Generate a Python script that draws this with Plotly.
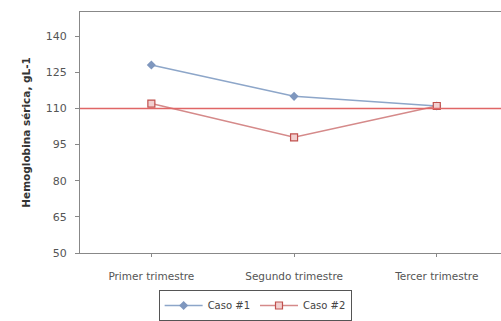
import plotly.graph_objects as go

trimestres = ["Primer trimestre", "Segundo trimestre", "Tercer trimestre"]
caso1 = [128, 115, 111]
caso2 = [112, 98, 111]
referencia = 110
y_ticks = [50, 65, 80, 95, 110, 125, 140]

font_family = "DejaVu Sans, Verdana, sans-serif"

fig = go.Figure()
fig.add_trace(go.Scatter(
    x=trimestres, y=caso1, name="Caso #1", mode="lines+markers",
    line=dict(color="#8DA6C9", width=1.5),
    marker=dict(symbol="diamond", size=7, color="#7F97BE"),
))
fig.add_trace(go.Scatter(
    x=trimestres, y=caso2, name="Caso #2", mode="lines+markers",
    line=dict(color="#D58A8A", width=1.5),
    marker=dict(symbol="square", size=7, color="#F2D0D0",
                line=dict(color="#C0504D", width=1.2)),
))

# Reference line across the whole plot area
fig.add_shape(type="line", xref="paper", x0=0, x1=1, yref="y",
              y0=referencia, y1=referencia,
              line=dict(color="#E06666", width=1.5))

fig.add_annotation(
    text="<b>Hemoglobina sérica, gL-1</b>", textangle=-90,
    xref="paper", yref="paper", x=-0.13, y=0.5,
    xanchor="center", yanchor="middle", showarrow=False,
    font=dict(family=font_family, size=10.5, color="#333333"),
)

fig.update_layout(
    width=501, height=321,
    margin=dict(l=80, r=0, t=12, b=66),
    paper_bgcolor="white", plot_bgcolor="white",
    font=dict(family=font_family, size=10, color="#555555"),
    showlegend=True,
    legend=dict(
        orientation="h", x=0.416, xanchor="center", y=-0.155, yanchor="top",
        bordercolor="#555555", borderwidth=1,
        font=dict(size=10, color="#444444"),
        itemwidth=38, tracegroupgap=0,
    ),
    xaxis=dict(
        type="category", range=[-0.5, 2.45],
        showline=True, linecolor="#888888", linewidth=1, mirror=True,
        ticks="outside", ticklen=3, tickcolor="#888888",
        ticklabelstandoff=10,
        showgrid=False, tickfont=dict(size=10.5, color="#555555"),
    ),
    yaxis=dict(
        range=[50, 150], tickvals=y_ticks,
        showline=True, linecolor="#888888", linewidth=1,
        ticks="outside", ticklen=4, tickcolor="#888888",
        ticklabelstandoff=6,
        showgrid=False, zeroline=False,
        tickfont=dict(size=11, color="#555555"),
    ),
)

fig.write_html("out.html")
